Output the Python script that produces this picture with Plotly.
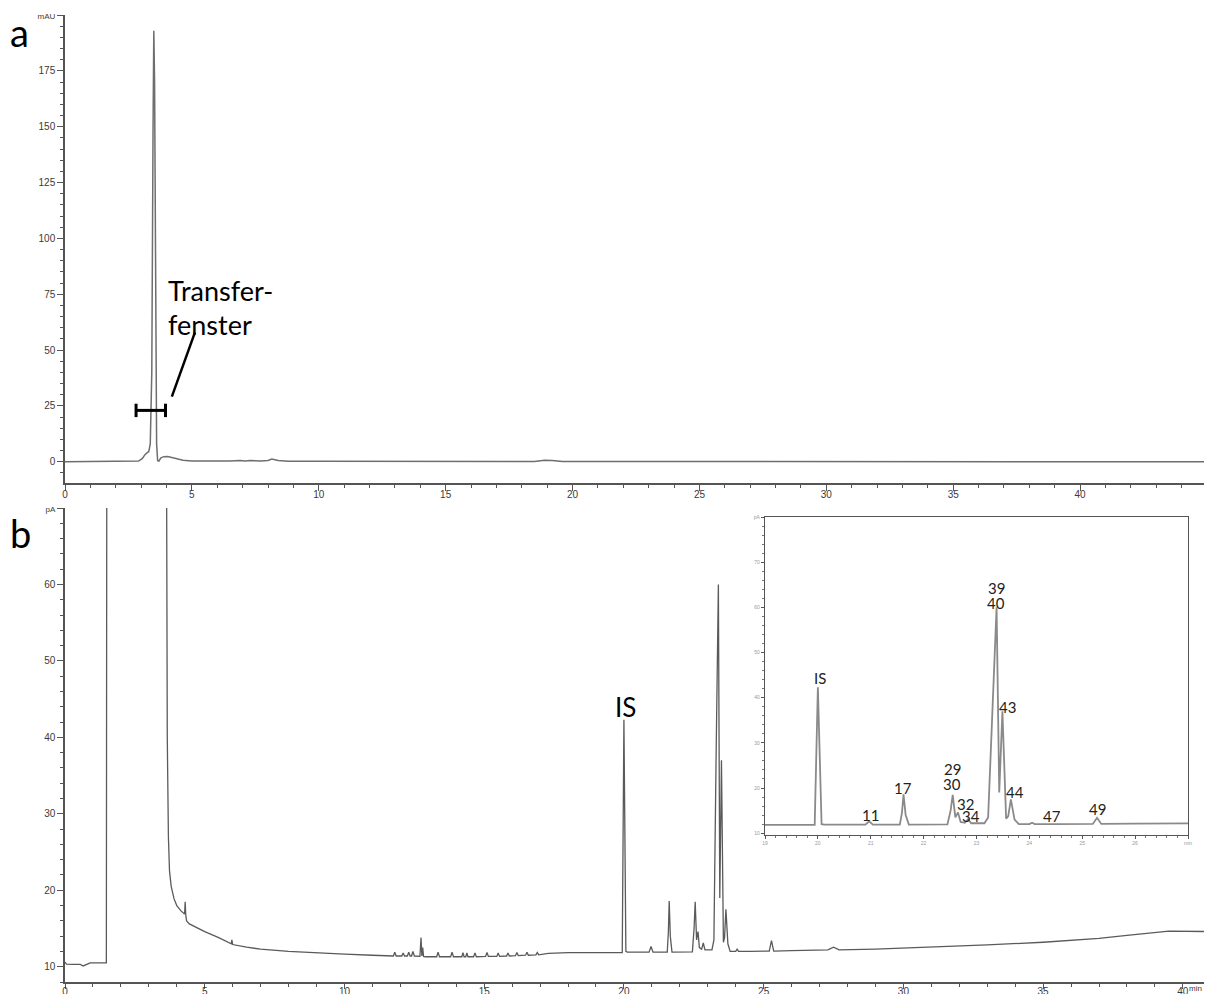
import plotly.graph_objects as go

W, H = 1212, 994
OFF = 8  # page body margin in the browser

# ---------------- Panel a: HPLC (UV, mAU) ----------------
lc_time = [0, 2.75, 2.9, 3.05, 3.15, 3.25, 3.3, 3.36, 3.42, 3.47, 3.5, 3.53, 3.57, 3.61,
           3.65, 3.7, 3.78, 3.9, 4.05, 4.2, 4.4, 4.65, 5.0, 5.6, 6.5, 6.9, 7.1, 7.3, 7.45,
           7.7, 8.0, 8.15, 8.4, 8.8, 10, 13, 16, 18.5, 18.9, 19.2, 19.6, 22, 30, 36.5,
           36.9, 37.3, 45]
lc_mau = [0, 0, 0.3, 1.5, 3.2, 4.2, 4.5, 8, 40, 150, 193, 170, 60, 8,
          0.5, 0.3, 1.8, 2.3, 2.4, 2.0, 1.3, 0.7, 0.4, 0.3, 0.3, 0.6, 0.4, 0.6, 0.5,
          0.3, 0.6, 1.2, 0.6, 0.2, 0.2, 0.1, 0.1, 0.1, 0.7, 0.6, 0.1, 0.1, 0.1, 0.1,
          0.3, 0.1, 0.0]

# ---------------- Panel b: GC (FID, pA) ----------------
gc_time = [0, 0.05, 0.3, 0.55, 0.65, 0.8, 0.9, 1.48, 1.5, 3.62, 3.66, 3.7, 3.74, 3.8,
           3.9, 4.0, 4.15, 4.28, 4.3, 4.32, 4.35, 4.45, 4.7, 5.0, 5.5, 5.95, 5.97, 6.0,
           6.5, 7.0, 8.0, 9.0, 10.0, 11.0,
           11.75, 11.8, 11.85, 12.05, 12.1, 12.15, 12.25, 12.3, 12.35, 12.4, 12.45, 12.5,
           12.7, 12.74, 12.77, 12.8, 12.83, 12.9,
           13.3, 13.35, 13.4, 13.8, 13.85, 13.9, 14.2, 14.24, 14.28, 14.34, 14.38, 14.42,
           14.62, 14.67, 14.72, 15.05, 15.1, 15.15, 15.45, 15.5, 15.55, 15.8, 15.85, 15.9,
           16.12, 16.17, 16.22, 16.48, 16.53, 16.58, 16.85, 16.9, 16.95,
           17.3, 18.0, 19.0, 19.94, 20.0, 20.07, 20.12,
           20.9, 20.97, 21.04, 21.55, 21.59, 21.62, 21.66, 21.72,
           22.45, 22.51, 22.55, 22.6, 22.65, 22.7, 22.78, 22.84, 22.9,
           23.15, 23.22, 23.3, 23.38, 23.43, 23.49, 23.56, 23.6, 23.65, 23.72, 23.8,
           24.0, 24.05, 24.1, 24.5, 25.2, 25.28, 25.36, 26.0, 27.3, 27.5, 27.7,
           29.0, 31.0, 33.0, 35.0, 37.0, 38.0, 39.0, 39.5, 40.9]
gc_pa = [10.6, 10.35, 10.3, 10.3, 10.1, 10.35, 10.5, 10.5, 95, 95, 40, 27, 22.5, 20.5,
         18.9, 18.0, 17.3, 16.9, 18.5, 16.8, 16.0, 15.6, 15.1, 14.6, 13.8, 13.0, 13.5, 12.9,
         12.55, 12.3, 12.0, 11.8, 11.65, 11.5,
         11.4, 11.9, 11.4, 11.4, 11.8, 11.4, 11.4, 11.9, 11.4, 11.4, 12.0, 11.4,
         11.35, 13.8, 11.4, 12.5, 11.35, 11.3,
         11.3, 11.9, 11.3, 11.3, 11.9, 11.3, 11.3, 11.85, 11.3, 11.3, 11.8, 11.3,
         11.3, 11.8, 11.3, 11.35, 11.85, 11.35, 11.35, 11.8, 11.35, 11.4, 11.8, 11.4,
         11.45, 11.85, 11.45, 11.5, 11.9, 11.5, 11.55, 11.85, 11.55,
         11.75, 11.85, 11.85, 11.85, 42.3, 12.0, 11.9,
         11.9, 12.65, 11.9, 11.9, 14.5, 18.6, 14.0, 11.9,
         11.95, 15.0, 18.5, 13.5, 14.6, 12.5, 12.3, 13.1, 12.2,
         12.2, 13.5, 38.0, 60.0, 19.0, 37.0, 13.2, 13.8, 17.5, 13.0, 12.0,
         12.0, 12.3, 12.0, 12.0, 12.05, 13.4, 12.05, 12.1, 12.2, 12.55, 12.2,
         12.3, 12.55, 12.85, 13.2, 13.7, 14.1, 14.5, 14.65, 14.6]

# inset peak labels
inset_labels = ["IS", "11", "17", "29", "30", "32", "34", "39", "40", "43", "44", "47", "49"]
inset_lab_px = [820, 870, 903, 952, 952, 965, 971, 996, 996, 1007, 1015, 1052, 1097]
inset_lab_py = [678, 815, 788, 769, 784, 804, 816, 588, 603, 707, 792, 816, 809]

lc_ticks = [0, 5, 10, 15, 20, 25, 30, 35, 40, 45]
lc_ticktext = ["0", "5", "10", "15", "20", "25", "30", "35", "40", ""]
lc_yticks = [0, 25, 50, 75, 100, 125, 150, 175, 200]
lc_yticktext = ["0", "25", "50", "75", "100", "125", "150", "175",
                "<span style='font-size:8px'>mAU</span>"]
gc_ticks = [0, 5, 10, 15, 20, 25, 30, 35, 40]
gc_yticks = [10, 20, 30, 40, 50, 60, 70]
gc_yticktext = ["10", "20", "30", "40", "50", "60", "<span style='font-size:8px'>pA</span>"]
in_ticks = [19, 20, 21, 22, 23, 24, 25, 26, 27]
in_ticktext = ["19", "20", "21", "22", "23", "24", "25", "26", "min"]
in_yticks = [10, 20, 30, 40, 50, 60, 70, 80]
in_yticktext = ["10", "20", "30", "40", "50", "60", "70", "pA"]

FW, FH = W - OFF, H - OFF


def px(x):
    return (x - OFF) / FW


def py(y):
    return 1 - (y - OFF) / FH


TICKFONT = dict(family="Liberation Sans", size=10, color="#3a3a3a")
AX = dict(showline=True, linecolor="#555", linewidth=1.5, ticks="outside", ticklen=6,
          tickcolor="#555", tickwidth=1.3, showgrid=False, zeroline=False,
          tickfont=TICKFONT, automargin=False, fixedrange=True)

fig = go.Figure()
fig.add_trace(go.Scatter(x=lc_time, y=lc_mau, mode="lines", xaxis="x", yaxis="y",
                         line=dict(color="#6e6e6e", width=1.5), showlegend=False))
fig.add_trace(go.Scatter(x=gc_time, y=gc_pa, mode="lines", xaxis="x2", yaxis="y2",
                         line=dict(color="#5a5a5a", width=1.3), showlegend=False))
fig.add_trace(go.Scatter(x=gc_time, y=gc_pa, mode="lines", xaxis="x3", yaxis="y3",
                         line=dict(color="#8a8a8a", width=1.8), showlegend=False))

fig.update_layout(
    width=FW, height=FH, margin=dict(l=0, r=0, t=0, b=0),
    paper_bgcolor="white", plot_bgcolor="white", showlegend=False,
    xaxis=dict(AX, domain=[px(65), px(1207)], range=[0, 45], anchor="y",
               tickvals=lc_ticks, ticktext=lc_ticktext, ticklabelstandoff=-5,
               minor=dict(dtick=1, ticklen=3, ticks="outside", tickcolor="#555")),
    yaxis=dict(AX, domain=[py(483), py(15)], range=[-9.5, 200], anchor="x",
               tickvals=lc_yticks, ticktext=lc_yticktext,
               minor=dict(dtick=5, ticklen=3, ticks="outside", tickcolor="#555")),
    xaxis2=dict(AX, domain=[px(65), px(1208)], range=[0, 40.9], anchor="y2",
                tickvals=gc_ticks, ticklen=5, ticklabelstandoff=-6,
                minor=dict(dtick=1, ticklen=3, ticks="outside", tickcolor="#555")),
    yaxis2=dict(AX, domain=[py(982), py(508)], range=[8, 70], anchor="x2",
                tickvals=gc_yticks, ticktext=gc_yticktext,
                minor=dict(dtick=2, ticklen=3, ticks="outside", tickcolor="#555")),
    xaxis3=dict(AX, domain=[px(765), px(1188)], range=[19, 27], anchor="y3",
                mirror=True, linewidth=1.2, ticklen=3, tickvals=in_ticks,
                ticktext=in_ticktext, tickfont=dict(family="Liberation Sans", size=5, color="#999"),
                minor=dict(dtick=0.2, ticklen=2, ticks="outside", tickcolor="#777")),
    yaxis3=dict(AX, domain=[py(835), py(517)], range=[9.6, 80], anchor="x3",
                mirror=True, linewidth=1.2, ticklen=3, tickvals=in_yticks,
                ticktext=in_yticktext, tickfont=dict(family="Liberation Sans", size=5, color="#999"),
                minor=dict(dtick=2, ticklen=2, ticks="outside", tickcolor="#777")),
)

TXT = "Lato"
ann = []
ann.append(dict(text="a", x=px(19), y=py(32), xref="paper", yref="paper", showarrow=False,
                font=dict(family=TXT, size=38, color="black"), xanchor="center", yanchor="middle"))
ann.append(dict(text="b", x=px(20), y=py(533), xref="paper", yref="paper", showarrow=False,
                font=dict(family=TXT, size=38, color="black"), xanchor="center", yanchor="middle"))
ann.append(dict(text="Transfer-", x=px(166), y=py(290), xref="paper", yref="paper",
                showarrow=False, font=dict(family=TXT, size=27, color="black"),
                xanchor="left", yanchor="middle"))
ann.append(dict(text="fenster", x=px(166), y=py(324), xref="paper", yref="paper",
                showarrow=False, font=dict(family=TXT, size=27, color="black"),
                xanchor="left", yanchor="middle"))
ann.append(dict(text="IS", x=px(625), y=py(707), xref="paper", yref="paper", showarrow=False,
                font=dict(family=TXT, size=26, color="black"), xanchor="center", yanchor="middle"))
ann.append(dict(text="min", x=px(1203), y=py(988), xref="paper", yref="paper", showarrow=False,
                font=dict(family="Liberation Sans", size=8, color="#3a3a3a"),
                xanchor="right", yanchor="middle", borderpad=0))
for t, xx, yy in zip(inset_labels, inset_lab_px, inset_lab_py):
    ann.append(dict(text=t, x=px(xx), y=py(yy), xref="paper", yref="paper", showarrow=False,
                    font=dict(family=TXT, size=15, color="#222"), xanchor="center",
                    yanchor="middle"))
fig.update_layout(annotations=ann)

# transfer window bracket and leader line (panel a data coordinates)
shapes = [
    dict(type="line", xref="x", yref="y", x0=2.8, x1=3.96, y0=23, y1=23,
         line=dict(color="black", width=3)),
    dict(type="line", xref="x", yref="y", x0=2.8, x1=2.8, y0=20.0, y1=26.0,
         line=dict(color="black", width=3)),
    dict(type="line", xref="x", yref="y", x0=3.96, x1=3.96, y0=20.0, y1=26.0,
         line=dict(color="black", width=3)),
    dict(type="line", xref="x", yref="y", x0=4.21, x1=5.12, y0=29.2, y1=57.9,
         line=dict(color="black", width=2.5)),
]
fig.update_layout(shapes=shapes)

fig.write_html("out.html", config=dict(displayModeBar=False))
